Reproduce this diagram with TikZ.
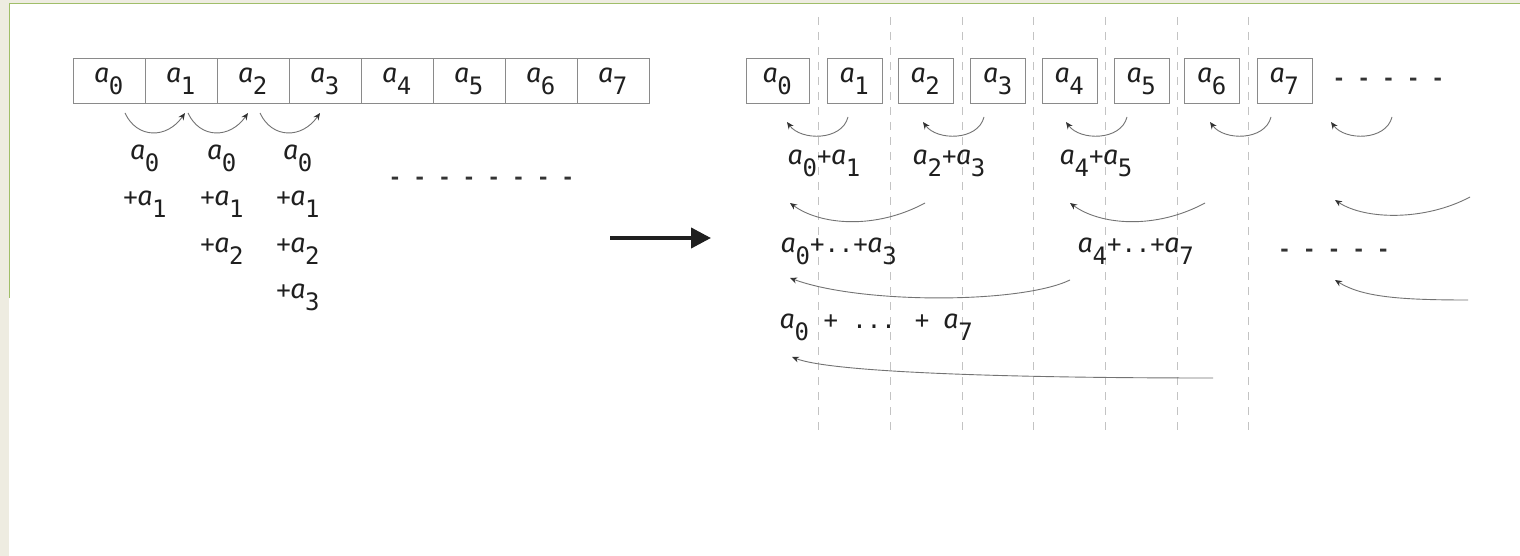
\documentclass[tikz,border=0pt]{standalone}
\usepackage{fontspec}
\usetikzlibrary{arrows.meta}
\newfontfamily\mono{DejaVu Sans Mono}
\newfontfamily\afont{Fira Sans}
\definecolor{pagebg}{RGB}{238,236,225}
\definecolor{frameg}{RGB}{160,190,105}
\definecolor{boxgray}{RGB}{138,138,138}
\definecolor{arrgray}{RGB}{115,115,115}
\definecolor{tipdark}{RGB}{50,50,50}
\definecolor{guide}{RGB}{195,195,195}
\newcommand\LetA{\makebox[14.4pt]{\afont\itshape\fontsize{27}{27}\selectfont a}}
\newcommand\Low[1]{\raisebox{-12pt}{#1}}
\newcommand\el[1]{\LetA\Low{#1}}
\tikzset{
  txt/.style={font=\mono\fontsize{24}{24}\selectfont, inner sep=0pt, text=black!88},
  dashtxt/.style={font=\mono\bfseries\fontsize{20.5}{20.5}\selectfont, inner sep=0pt, text=black!80},
  cellbox/.style={txt, draw=boxgray, line width=1pt, minimum height=45pt,
                  text height=12pt, text depth=9pt},
  sumarrow/.style={draw=arrgray, line width=0.9pt,
                   -{Stealth[length=7pt,width=6pt,color=tipdark]}},
  guideline/.style={draw=guide, line width=0.9pt, dash pattern=on 8pt off 7pt},
  bigarrow/.style={draw=black!88, line width=4pt,
                   -{Triangle[length=20pt,width=20pt]}}
}
\begin{document}
\begin{tikzpicture}[x=1pt,y=-1pt]
\useasboundingbox (0,0) rectangle (1520,556);
% page background and frame
\fill[white] (0,0) rectangle (1520,556);
\fill[pagebg] (0,0) rectangle (1520,3);
\fill[pagebg] (0,0) rectangle (8.5,556);
\draw[frameg, line width=1.4pt] (9.3,298) -- (9.3,3.6) -- (1520,3.6);

% ---------- left: sequential array ----------
\foreach \i in {0,...,7}
  \node[cellbox, minimum width=72pt] (L\i) at ({109+72*\i},81.5) {\el{\i}};

\foreach \s/\t [count=\k] in {125/185,188/248,260/320}{
  \coordinate (ls\k) at (\s,113);
  \coordinate (lt\k) at (\t,113);
  \draw[sumarrow] (ls\k) .. controls (\s+12,139) and (\t-18,139) .. (lt\k);
}

\node[txt, anchor=base] (c1r1) at (145,160) {\el0};
\node[txt, anchor=base] (c1r2) at (145,206) {+\el1};
\node[txt, anchor=base] (c2r1) at (222,160) {\el0};
\node[txt, anchor=base] (c2r2) at (222,206) {+\el1};
\node[txt, anchor=base] (c2r3) at (222,252) {+\el2};
\node[txt, anchor=base] (c3r1) at (298,160) {\el0};
\node[txt, anchor=base] (c3r2) at (298,206) {+\el1};
\node[txt, anchor=base] (c3r3) at (298,252) {+\el2};
\node[txt, anchor=base] (c3r4) at (298,298) {+\el3};

\node[dashtxt, anchor=base] (ldash) at (481.5,184.5) {- - - - - - - -};

% ---------- big arrow ----------
\coordinate (ba) at (610,238);
\coordinate (bb) at (711,238);
\draw[bigarrow] (ba) -- (bb);

% ---------- right: tree reduction ----------
\foreach \x [count=\k] in {818,890,962,1033,1105,1177,1248}{
  \coordinate (gt\k) at (\x,17);
  \coordinate (gb\k) at (\x,430);
  \draw[guideline] (gt\k) -- (gb\k);
}

\node[cellbox, minimum width=63pt] (R0) at (777.5,81.5) {\el0};
\foreach \c/\i in {854.5/1,925.5/2,998/3,1069.5/4,1141.5/5,1212/6,1284.5/7}
  \node[cellbox, minimum width=55pt] (R\i) at (\c,81.5) {\el{\i}};
\node[dashtxt, anchor=base] (rdash1) at (1388.5,86) {- - - - -};

% level 1 arrows
\foreach \m [count=\k] in {818,954,1097,1241,1362}{
  \coordinate (as\k) at (\m+30,117);
  \coordinate (at\k) at (\m-31,122);
  \draw[sumarrow] (as\k) .. controls (\m+24,141) and (\m-17,141) .. (at\k);
}
\node[txt, anchor=base west] (s01) at (788,165) {\el0+\el1};
\node[txt, anchor=base west] (s23) at (913,165) {\el2+\el3};
\node[txt, anchor=base west] (s45) at (1060,165) {\el4+\el5};

% level 2 arrows
\coordinate (bs1) at (925,203);  \coordinate (bt1) at (790,203);
\draw[sumarrow] (bs1) .. controls (875,230) and (820,225) .. (bt1);
\coordinate (bs2) at (1205,203); \coordinate (bt2) at (1070,203);
\draw[sumarrow] (bs2) .. controls (1155,230) and (1100,225) .. (bt2);
\coordinate (bs3) at (1470,197); \coordinate (bt3) at (1335,200);
\draw[sumarrow] (bs3) .. controls (1425,221) and (1365,220) .. (bt3);

\node[txt, anchor=base west] (s03) at (781,252) {\el0+..+\el3};
\node[txt, anchor=base west] (s47) at (1078,252) {\el4+..+\el7};
\node[dashtxt, anchor=base] (rdash2) at (1334,256) {- - - - -};

% level 3 arrows
\coordinate (cs1) at (1070,280); \coordinate (ct1) at (790,278);
\draw[sumarrow] (cs1) .. controls (1020,304) and (860,304) .. (ct1);
\coordinate (cs2) at (1468,300); \coordinate (ct2) at (1335,280);
\draw[sumarrow] (cs2) .. controls (1400,300) and (1362,297) .. (ct2);

\node[txt, anchor=base west] (s07) at (780,328) {\el0 + ... + \el7};

% level 4 arrow
\coordinate (ds1) at (1213,378); \coordinate (dt1) at (792,357);
\draw[sumarrow] (ds1) .. controls (1000,378) and (830,372) .. (dt1);
\end{tikzpicture}
\end{document}
